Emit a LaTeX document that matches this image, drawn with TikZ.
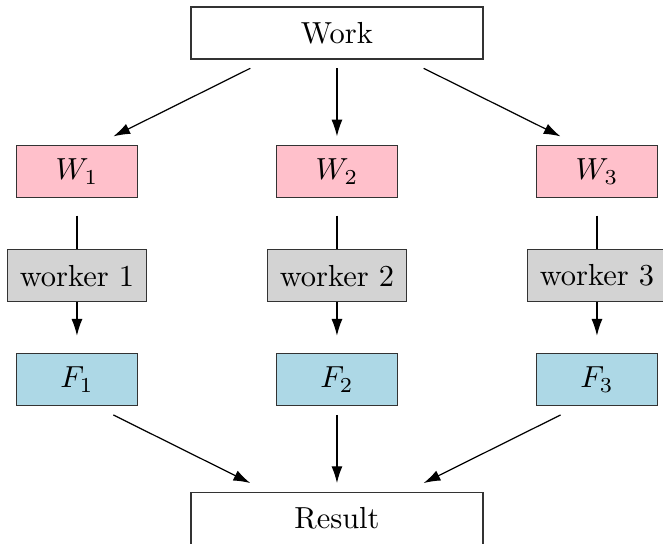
\documentclass[tikz,border=0pt]{standalone}
\usepackage{amsmath,amsfonts,amssymb}
\usepackage{tikz}
\usetikzlibrary{arrows.meta}

\definecolor{workpink}{RGB}{255,192,203}
\definecolor{workergray}{RGB}{211,211,211}
\definecolor{doneblue}{RGB}{173,216,230}

\begin{document}
\begin{tikzpicture}[>={Latex[length=5.5pt,width=3.6pt]},
	box/.style={draw=black!80, minimum height=0.6cm, minimum width=1.4cm}]
	
	\useasboundingbox (-3.888,0.381) rectangle (3.762,-5.885);
	
	% Work and result
	\node[box, minimum width=3.37cm] (work) at (0,0) {Work};
	\node[box, minimum width=3.37cm] (result) at (0,-5.6) {Result};
	
	% Pieces of work
	\node[box, fill=workpink] (w1) at (-3,-1.6) {$W_1$};
	\node[box, fill=workpink] (w2) at (0,-1.6) {$W_2$};
	\node[box, fill=workpink] (w3) at (3,-1.6) {$W_3$};
	
	% Finished pieces
	\node[box, fill=doneblue] (f1) at (-3,-4) {$F_1$};
	\node[box, fill=doneblue] (f2) at (0,-4) {$F_2$};
	\node[box, fill=doneblue] (f3) at (3,-4) {$F_3$};
	
	% Split the work
	\draw[->] ([xshift=-1cm,yshift=-0.1cm]work.south) -- ([xshift=0.42cm,yshift=0.1cm]w1.north);
	\draw[->,shorten <=0.1cm,shorten >=0.1cm] (work) -- (w2);
	\draw[->] ([xshift=1cm,yshift=-0.1cm]work.south) -- ([xshift=-0.42cm,yshift=0.1cm]w3.north);
	
	% Pieces go through the workers
	\draw[->,shorten <=0.2cm,shorten >=0.2cm] (w1) -- (f1);
	\draw[->,shorten <=0.2cm,shorten >=0.2cm] (w2) -- (f2);
	\draw[->,shorten <=0.2cm,shorten >=0.2cm] (w3) -- (f3);
	
	% Workers
	\node[box, fill=workergray, minimum width=1.6cm] (worker1) at (-3,-2.8) {worker 1};
	\node[box, fill=workergray, minimum width=1.6cm] (worker2) at (0,-2.8) {worker 2};
	\node[box, fill=workergray, minimum width=1.6cm] (worker3) at (3,-2.8) {worker 3};
	
	% Collect the result
	\draw[->] ([xshift=0.42cm,yshift=-0.1cm]f1.south) -- ([xshift=-1cm,yshift=0.1cm]result.north);
	\draw[->,shorten <=0.1cm,shorten >=0.1cm] (f2) -- (result);
	\draw[->] ([xshift=-0.42cm,yshift=-0.1cm]f3.south) -- ([xshift=1cm,yshift=0.1cm]result.north);
	
\end{tikzpicture}
\end{document}
